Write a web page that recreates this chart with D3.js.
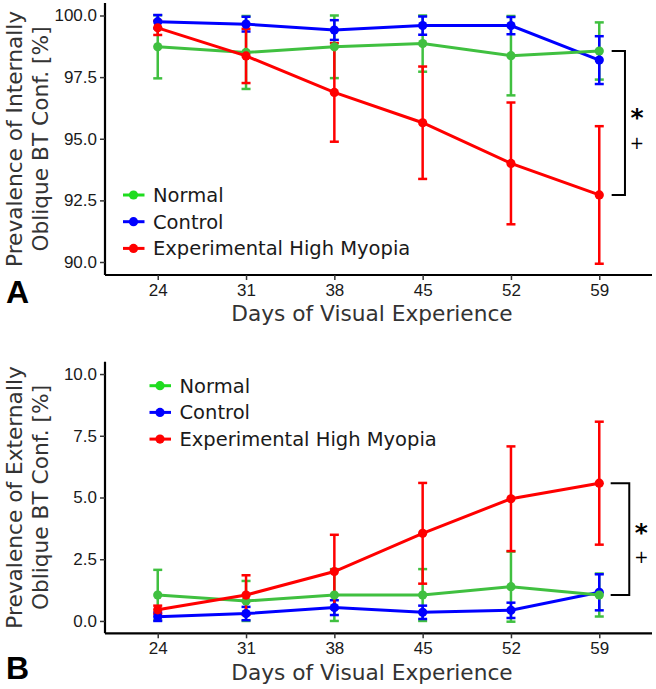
<!DOCTYPE html>
<html><head><meta charset="utf-8">
<script src="https://cdn.jsdelivr.net/npm/d3@7"></script>
<style>html,body{margin:0;padding:0;background:#fff;}svg{display:block;}</style>
</head><body>
<svg id="chart" width="656" height="689"></svg>
<script>
// ---- data ----
const days = [24, 31, 38, 45, 52, 59];
const seriesNames = ["Normal", "Control", "Experimental High Myopia"];
const yTicksInternal = [90.0, 92.5, 95.0, 97.5, 100.0];
const yTicksExternal = [0.0, 2.5, 5.0, 7.5, 10.0];

const internalNormal    = [98.73, 98.50, 98.73, 98.86, 98.37, 98.56];
const internalNormalSD  = [1.28, 1.48, 1.27, 1.14, 1.61, 1.16];
const internalControl   = [99.75, 99.65, 99.41, 99.59, 99.59, 98.19];
const internalControlSD = [0.27, 0.30, 0.40, 0.37, 0.35, 0.97];
const internalMyopia    = [99.50, 98.36, 96.88, 95.65, 94.00, 92.72];
const internalMyopiaSD  = [0.29, 1.10, 2.00, 2.28, 2.47, 2.79];

const externalNormal    = [1.05, 0.81, 1.05, 1.05, 1.39, 1.05];
const externalNormalSD  = [1.02, 0.81, 1.05, 1.05, 1.42, 0.87];
const externalControl   = [0.17, 0.30, 0.54, 0.35, 0.43, 1.16];
const externalControlSD = [0.17, 0.27, 0.30, 0.27, 0.31, 0.73];
const externalMyopia    = [0.45, 1.05, 2.00, 3.55, 4.95, 5.58];
const externalMyopiaSD  = [0.17, 0.80, 1.49, 2.04, 2.12, 2.49];

const lineColors = ["#40c040", "#0000ff", "#ff0000"];
const legendColors = ["#1fdc1f", "#0000ff", "#ff0000"];

const svg = d3.select("#chart");

function panel(cfg) {
  const x = d3.scaleLinear().domain([19.82, 63.18]).range([105, 652]);
  const y = d3.scaleLinear().domain(cfg.yDomain).range([cfg.bottom, cfg.top]);
  const g = svg.append("g");

  // axes
  const ya = g.append("g").attr("transform", "translate(105,0)")
    .call(d3.axisLeft(y).tickValues(cfg.yTicks).tickFormat(d3.format(".1f")).tickSize(5).tickPadding(3));
  const xa = g.append("g").attr("transform", `translate(0,${cfg.bottom})`)
    .call(d3.axisBottom(x).tickValues(days).tickFormat(d3.format("d")).tickSize(5).tickPadding(4));
  [ya, xa].forEach(a => {
    a.select(".domain").attr("stroke", "#000").attr("stroke-width", 2.2);
    a.selectAll(".tick line").attr("stroke", "#333").attr("stroke-width", 1.5);
    a.selectAll(".tick text").attr("fill", "#1a1a1a").attr("font-family", "'Liberation Sans', Arial, sans-serif").attr("font-size", 17);
  });
  ya.select(".domain").attr("d", `M0,${cfg.top}V${cfg.bottom}`);
  xa.select(".domain").attr("d", `M105,0H652`);

  const series = cfg.series.map((s, i) => ({
    name: seriesNames[i], color: lineColors[i],
    pts: days.map((d, j) => ({ d, v: s.v[j], e: s.e[j] }))
  }));

  // error bars
  series.forEach(s => {
    const eg = g.append("g").attr("stroke", s.color).attr("stroke-width", 2.5).attr("fill", "none");
    s.pts.forEach(p => {
      const cx = x(p.d), y1 = y(p.v + p.e), y2 = y(p.v - p.e);
      eg.append("line").attr("x1", cx).attr("x2", cx).attr("y1", y1).attr("y2", y2);
      eg.append("line").attr("x1", cx - 4.5).attr("x2", cx + 4.5).attr("y1", y1).attr("y2", y1);
      eg.append("line").attr("x1", cx - 4.5).attr("x2", cx + 4.5).attr("y1", y2).attr("y2", y2);
    });
  });
  // lines & points (control, normal, myopia)
  const line = d3.line().x(p => x(p.d)).y(p => y(p.v));
  [1, 0, 2].forEach(i => {
    const s = series[i];
    g.append("path").attr("d", line(s.pts)).attr("fill", "none").attr("stroke", s.color).attr("stroke-width", 3);
    g.selectAll(null).data(s.pts).enter().append("circle")
      .attr("cx", p => x(p.d)).attr("cy", p => y(p.v)).attr("r", 4.6).attr("fill", s.color);
  });

  // legend
  seriesNames.forEach((n, i) => {
    const ly = cfg.legY + i * 26.7;
    g.append("line").attr("x1", cfg.legX - 10.5).attr("x2", cfg.legX + 11).attr("y1", ly).attr("y2", ly)
      .attr("stroke", legendColors[i]).attr("stroke-width", 3);
    g.append("circle").attr("cx", cfg.legX).attr("cy", ly).attr("r", 4.6).attr("fill", legendColors[i]);
    g.append("text").attr("x", cfg.legX + 19.5).attr("y", ly + 6.8).text(n)
      .attr("font-family", "'DejaVu Sans', sans-serif").attr("font-size", 19.5).attr("fill", "#1a1a1a");
  });

  // significance bracket
  const last = days.length - 1;
  const by1 = y(cfg.bracket[0][last]), by2 = y(cfg.bracket[1][last]);
  const bx0 = x(59) + cfg.bx[0], bx1 = x(59) + cfg.bx[1];
  g.append("path").attr("d", `M${bx0},${by1}H${bx1}V${by2}H${bx0}`)
    .attr("fill", "none").attr("stroke", "#000").attr("stroke-width", 2);
  g.append("text").attr("x", bx1 + 12).attr("y", cfg.starY + 13).attr("text-anchor", "middle")
    .attr("font-family", "'DejaVu Sans', sans-serif").attr("font-size", 25).attr("font-weight", "bold").text("*");
  g.append("text").attr("x", bx1 + 12).attr("y", cfg.plusY + 6).attr("text-anchor", "middle")
    .attr("font-family", "'DejaVu Sans', sans-serif").attr("font-size", 17).text("+");

  // axis titles
  const yc = (cfg.top + cfg.bottom) / 2;
  cfg.yTitle.forEach((t, i) => {
    g.append("text").attr("transform", `translate(${22 + i * 25.5},${yc}) rotate(-90)`)
      .attr("text-anchor", "middle").text(t)
      .attr("font-family", "'DejaVu Sans', sans-serif").attr("font-size", 21.7).attr("fill", "#333");
  });
  g.append("text").attr("x", 372).attr("y", cfg.xTitleY).attr("text-anchor", "middle").text("Days of Visual Experience")
    .attr("font-family", "'DejaVu Sans', sans-serif").attr("font-size", 21.7).attr("fill", "#333");
  g.append("text").attr("x", 6).attr("y", cfg.labelY).text(cfg.label)
    .attr("font-family", "'Liberation Sans', Arial, sans-serif").attr("font-size", 32).attr("font-weight", "bold").attr("fill", "#000");
}

panel({
  top: 3, bottom: 275, yDomain: [89.473, 100.507], yTicks: yTicksInternal,
  series: [{ v: internalNormal, e: internalNormalSD }, { v: internalControl, e: internalControlSD }, { v: internalMyopia, e: internalMyopiaSD }],
  legX: 133.5, legY: 195,
  bracket: [internalNormal, internalMyopia], bx: [12.4, 25.7], starY: 113, plusY: 143,
  yTitle: ["Prevalence of Internally", "Oblique BT Conf. [%]"], xTitleY: 320.5, label: "A", labelY: 303
});
panel({
  top: 361.7, bottom: 633.3, yDomain: [-0.5, 10.5], yTicks: yTicksExternal,
  series: [{ v: externalNormal, e: externalNormalSD }, { v: externalControl, e: externalControlSD }, { v: externalMyopia, e: externalMyopiaSD }],
  legX: 160, legY: 385.7,
  bracket: [externalMyopia, externalNormal], bx: [11.4, 30], starY: 527.7, plusY: 556.7,
  yTitle: ["Prevalence of Externally", "Oblique BT Conf. [%]"], xTitleY: 680, label: "B", labelY: 679
});
</script>
</body></html>
